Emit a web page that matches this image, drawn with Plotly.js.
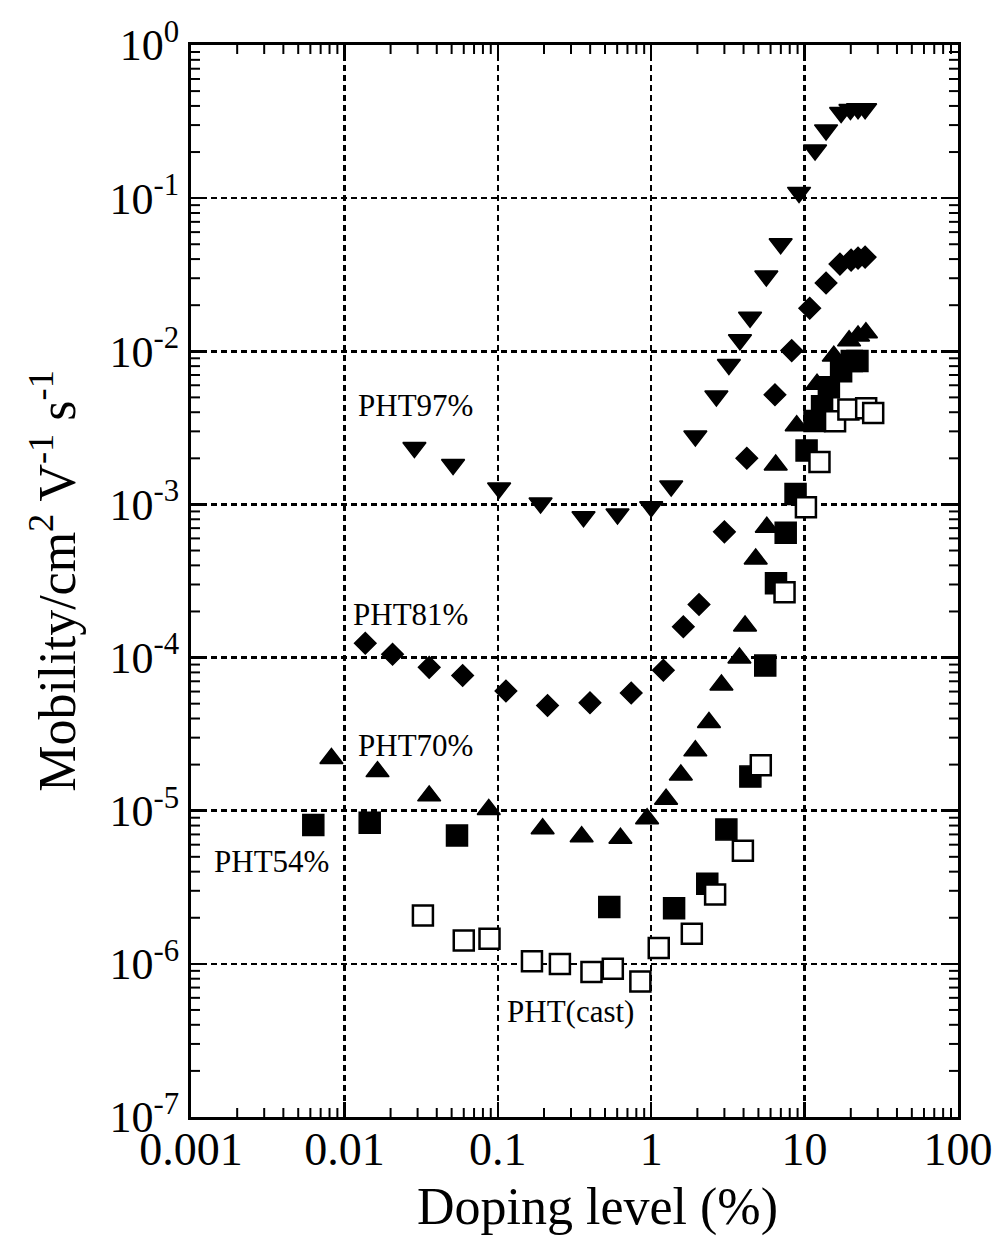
<!DOCTYPE html>
<html>
<head>
<meta charset="utf-8">
<script src="https://cdn.plot.ly/plotly-3.0.1.min.js"></script>
<style>
  html, body { margin: 0; padding: 0; background: #fff; }
  #chart { width: 1001px; height: 1243px; }
</style>
</head>
<body>
<div id="chart"></div>
<script>
// Doping level (%) and hole mobility (cm^2 V^-1 s^-1) for each film
const pht97Doping = [0.0286, 0.0511, 0.102, 0.19, 0.362, 0.603, 1.0, 1.35, 1.94, 2.66, 3.21, 3.79, 4.41, 5.63, 6.98, 9.2, 11.7, 13.8, 17.3, 19.9, 22.3, 24.8];
const pht97Mobility = [2.35e-3, 1.82e-3, 1.28e-3, 1.02e-3, 8.3e-4, 8.65e-4, 9.66e-4, 1.32e-3, 2.8e-3, 5.1e-3, 8.2e-3, 1.19e-2, 1.67e-2, 3.1e-2, 5.04e-2, 0.109, 0.206, 0.279, 0.362, 0.379, 0.383, 0.383];

const pht81Doping = [0.01368, 0.0206, 0.0357, 0.059, 0.113, 0.211, 0.399, 0.741, 1.2, 1.62, 2.05, 3.0, 4.2, 6.41, 8.24, 10.8, 13.8, 17.0, 20.1, 22.3, 24.8];
const pht81Mobility = [1.24e-4, 1.05e-4, 8.63e-5, 7.64e-5, 6.05e-5, 4.87e-5, 5.07e-5, 5.87e-5, 8.27e-5, 1.59e-4, 2.22e-4, 6.62e-4, 2.0e-3, 5.2e-3, 1.01e-2, 1.91e-2, 2.79e-2, 3.71e-2, 3.94e-2, 4.06e-2, 4.12e-2];

const pht70Doping = [0.00823, 0.01644, 0.0357, 0.0873, 0.196, 0.352, 0.630, 0.94, 1.25, 1.56, 1.94, 2.38, 2.87, 3.76, 4.09, 4.80, 5.67, 6.48, 8.88, 12.05, 15.5, 19.5, 22.3, 25.1];
const pht70Mobility = [2.19e-5, 1.80e-5, 1.25e-5, 1.02e-5, 7.62e-6, 6.76e-6, 6.61e-6, 8.87e-6, 1.19e-5, 1.71e-5, 2.46e-5, 3.77e-5, 6.63e-5, 9.93e-5, 1.61e-4, 4.40e-4, 7.09e-4, 1.81e-3, 3.27e-3, 6.1e-3, 9.3e-3, 1.17e-2, 1.26e-2, 1.32e-2];

const pht54Doping = [0.00627, 0.01462, 0.0542, 0.533, 1.41, 2.32, 3.09, 4.43, 5.54, 6.51, 7.53, 8.73, 10.3, 11.6, 13.0, 14.4, 17.3, 20.3, 22.1];
const pht54Mobility = [8.07e-6, 8.35e-6, 6.89e-6, 2.35e-6, 2.31e-6, 3.33e-6, 7.55e-6, 1.67e-5, 8.87e-5, 3.06e-4, 6.53e-4, 1.17e-3, 2.25e-3, 3.50e-3, 4.38e-3, 5.83e-3, 7.42e-3, 8.63e-3, 8.63e-3];

const castDoping = [0.0325, 0.060, 0.0883, 0.167, 0.254, 0.408, 0.562, 0.85, 1.12, 1.84, 2.61, 3.96, 5.18, 7.40, 10.2, 12.5, 15.8, 19.3, 25.2, 28.0];
const castMobility = [2.07e-6, 1.42e-6, 1.46e-6, 1.04e-6, 9.97e-7, 8.84e-7, 9.29e-7, 7.67e-7, 1.27e-6, 1.57e-6, 2.84e-6, 5.48e-6, 1.98e-5, 2.67e-4, 9.57e-4, 1.89e-3, 3.49e-3, 4.16e-3, 4.25e-3, 3.96e-3];

// Axis tick labels
const xTickVals = [0.001, 0.01, 0.1, 1, 10, 100];
const xTickText = ['0.001', '0.01', '0.1', '1', '10', '100'];
const yTickVals = [1e-7, 1e-6, 1e-5, 1e-4, 1e-3, 1e-2, 1e-1, 1];
const yTickText = ['10<sup>-7</sup>', '10<sup>-6</sup>', '10<sup>-5</sup>', '10<sup>-4</sup>', '10<sup>-3</sup>', '10<sup>-2</sup>', '10<sup>-1</sup>', '10<sup>0</sup>'];

// Series labels and axis titles
const seriesNames = ['PHT97%', 'PHT81%', 'PHT70%', 'PHT54%', 'PHT(cast)'];
const xTitle = 'Doping level (%)';
const yTitle = 'Mobility/cm<sup>2</sup> V<sup>-1</sup> s<sup>-1</sup>';

const W = 1001, H = 1243;
const M = { l: 191, r: 43, t: 45, b: 126 };
const plotW = W - M.l - M.r, plotH = H - M.t - M.b;

// minor ticks at 2..9 within each decade
function minorTicks(lo, hi) {
  const out = [];
  for (let d = lo; d < hi; d++) {
    for (let k = 2; k <= 9; k++) out.push(k * Math.pow(10, d));
  }
  return out;
}

// short inward tick segments on all four sides of the frame
function minorTickShapes() {
  const len = 9, lw = 2;
  const shapes = [];
  const line = { color: '#000', width: lw };
  minorTicks(-3, 2).forEach(v => {
    shapes.push({ type: 'line', xref: 'x', yref: 'paper', x0: v, x1: v, y0: 0, y1: len / plotH, line: line });
    shapes.push({ type: 'line', xref: 'x', yref: 'paper', x0: v, x1: v, y0: 1, y1: 1 - len / plotH, line: line });
  });
  minorTicks(-7, 0).forEach(v => {
    shapes.push({ type: 'line', xref: 'paper', yref: 'y', x0: 0, x1: len / plotW, y0: v, y1: v, line: line });
    shapes.push({ type: 'line', xref: 'paper', yref: 'y', x0: 1, x1: 1 - len / plotW, y0: v, y1: v, line: line });
  });
  return shapes;
}

const serif = 'Liberation Serif, Times New Roman, serif';

function scatter(x, y, name, symbol, size, fill, lw) {
  return {
    type: 'scatter', mode: 'markers', x: x, y: y, name: name,
    marker: { symbol: symbol, size: size, color: fill, line: { color: '#000', width: lw } },
    cliponaxis: false
  };
}

const traces = [
  scatter(pht97Doping, pht97Mobility, seriesNames[0], 'triangle-down', 20, '#000', 1.5),
  scatter(pht81Doping, pht81Mobility, seriesNames[1], 'diamond', 16.5, '#000', 1.5),
  scatter(pht70Doping, pht70Mobility, seriesNames[2], 'triangle-up', 20, '#000', 1.5),
  scatter(pht54Doping, pht54Mobility, seriesNames[3], 'square', 21, '#000', 1.5),
  scatter(castDoping, castMobility, seriesNames[4], 'square', 20, '#fff', 2.5)
];

const axisCommon = {
  type: 'log',
  showline: true, linecolor: '#000', linewidth: 3, mirror: 'ticks',
  ticks: 'inside', ticklen: 15, tickwidth: 2.5, tickcolor: '#000',
  showgrid: true, gridcolor: '#000', gridwidth: 2.5, griddash: '6px,4px',
  zeroline: false,
  tickmode: 'array',
  tickfont: { family: serif, size: 46, color: '#000' }
};

const labelFont = { family: serif, size: 31, color: '#000' };
// label anchor positions in log10 axis units
const labelPos = [[-1.926, -2.351], [-1.959, -3.717], [-1.926, -4.572], [-2.865, -5.330], [-0.953, -6.310]];

const annotations = seriesNames.map((t, i) => ({
  text: t, x: labelPos[i][0], y: labelPos[i][1], xref: 'x', yref: 'y',
  xanchor: 'left', yanchor: 'middle', showarrow: false, font: labelFont
}));
// x-axis title, set slightly right of the plot centre
annotations.push({
  text: xTitle, xref: 'paper', yref: 'paper', x: (597 - M.l) / plotW, y: -90 / plotH,
  xanchor: 'center', yanchor: 'middle', showarrow: false,
  font: { family: serif, size: 52, color: '#000' }
});

const layout = {
  width: W, height: H,
  margin: M,
  paper_bgcolor: '#fff', plot_bgcolor: '#fff',
  showlegend: false,
  font: { family: serif, color: '#000' },
  xaxis: Object.assign({}, axisCommon, {
    range: [-3, 2],
    tickvals: xTickVals, ticktext: xTickText,
    ticklabelstandoff: -10
  }),
  yaxis: Object.assign({}, axisCommon, {
    range: [-7, 0],
    tickvals: yTickVals, ticktext: yTickText,
    tickfont: { family: serif, size: 44, color: '#000' },
    title: { text: yTitle, font: { family: serif, size: 52, color: '#000' } }
  }),
  shapes: minorTickShapes(),
  annotations: annotations
};

Plotly.newPlot('chart', traces, layout, { displayModeBar: false, staticPlot: true });
</script>
</body>
</html>
